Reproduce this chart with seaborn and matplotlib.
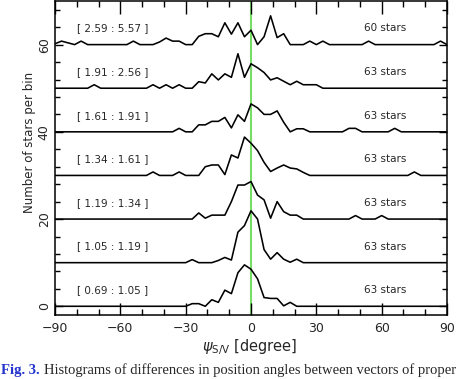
import numpy as np
import pandas as pd
import matplotlib
matplotlib.use("Agg")
import matplotlib.pyplot as plt
from matplotlib.ticker import MultipleLocator
import seaborn as sns

# bin centres (degrees)
angles = np.arange(-90, 91, 3)

# stars per bin, one list per S/V interval (bottom -> top)
c0 = [0, 0, 0, 0, 0, 0, 0, 0, 0, 0,
      0, 0, 0, 0, 0, 0, 0, 0, 0, 0,
      0, 0.6, 0.6, 0, 1.5, 0.9, 3.7, 2.9, 7.7, 9.5,
      8.5, 6.3, 2.0, 1.8, 1.8, 0.1, 0.9, 0, 0, 0,
      0, 0, 0, 0, 0, 0, 0, 0, 0, 0,
      0, 0, 0, 0, 0, 0, 0, 0, 0, 0,
      0]
c1 = [0, 0, 0, 0, 0, 0, 0, 0, 0, 0,
      0, 0, 0, 0, 0, 0, 0, 0, 0, 0,
      0, 0.7, 0, 0, 0, 0.5, 1.2, 0.6, 7.0, 8.5,
      11.9, 10.0, 3.0, 0.8, 2.3, 0.8, 0.1, 0.8, 0, 0,
      0, 0, 0, 0, 0, 0, 0, 0, 0, 0,
      0, 0, 0, 0, 0, 0, 0, 0, 0, 0,
      0]
c2 = [0, 0, 0, 0, 0, 0, 0, 0, 0, 0,
      0, 0, 0, 0, 0, 0, 0, 0, 0, 0,
      0, 0, 1.4, 0.2, 0.9, 0.9, 0.9, 4.0, 7.8, 7.8,
      8.6, 5.5, 4.4, 0.2, 4.0, 1.7, 0.9, 0.9, 0, 0,
      0, 0, 0, 0, 0, 0, 0.8, 0, 0, 0,
      0.8, 0, 0, 0, 0, 0, 0, 0, 0, 0,
      0]
c3 = [0, 0, 0, 0, 0, 0, 0, 0, 0, 0,
      0, 0, 0, 0, 0, 0.8, 0, 0, 0, 0.8,
      0, 0, 0, 2.0, 2.4, 2.4, 0.2, 4.7, 4.0, 8.8,
      7.4, 5.7, 3.0, 0.9, 1.7, 2.4, 1.7, 1.5, 0.7, 0,
      0, 0, 0, 0, 0, 0, 0, 0, 0, 0,
      0, 0, 0, 0, 0, 0.8, 0, 0, 0, 0,
      0]
c4 = [0, 0, 0, 0, 0, 0, 0, 0, 0, 0,
      0, 0, 0, 0, 0, 0, 0, 0, 0, 0.8,
      0, 0, 1.6, 1.6, 2.4, 2.4, 3.3, 0.9, 3.9, 2.4,
      6.4, 5.5, 4.0, 4.0, 4.8, 2.2, 0, 0.7, 0.7, 0,
      0, 0, 0, 0, 0, 0.8, 0.8, 0, 0, 0,
      0, 0, 0.8, 0, 0, 0, 0, 0, 0, 0,
      0]
c5 = [0, 0, 0, 0, 0, 0, 0.8, 0, 0, 0,
      0, 0, 0, 0, 0, 0.8, 0, 0.8, 0, 0.8,
      0, 0, 1.5, 1.2, 3.3, 1.9, 3.3, 2.5, 7.9, 2.5,
      5.6, 4.7, 3.6, 1.9, 2.4, 1.6, 0.8, 1.6, 0.8, 0.8,
      0.8, 0, 0, 0, 0, 0, 0, 0, 0, 0,
      0, 0, 0, 0, 0, 0, 0, 0, 0, 0,
      0]
c6 = [0.2, 0.8, 0.4, 0, 0.8, 0, 0, 0, 0, 0,
      0, 0, 0.8, 0, 0, 0, 0.6, 1.5, 0.8, 0.8,
      0, 0, 1.9, 2.5, 2.5, 1.8, 5.0, 2.4, 5.0, 1.8,
      3.3, 0, 1.8, 6.6, 1.6, 2.5, 0, 0, 0, 0.8,
      0, 0.8, 0, 0, 0, 0, 0, 0, 0.8, 0,
      0, 0, 0, 0, 0, 0, 0, 0, 0, 0.8,
      0]

curves = [c0, c1, c2, c3, c4, c5, c6]
ranges = ["[ 0.69 : 1.05 ]", "[ 1.05 : 1.19 ]", "[ 1.19 : 1.34 ]", "[ 1.34 : 1.61 ]",
          "[ 1.61 : 1.91 ]", "[ 1.91 : 2.56 ]", "[ 2.59 : 5.57 ]"]
nstars = [63, 63, 63, 63, 63, 63, 60]

rows = []
for k, c in enumerate(curves):
    for a, v in zip(angles, c):
        rows.append({"angle": a, "y": v + 10 * k, "group": k})
df = pd.DataFrame(rows)

sns.set_style("ticks")
plt.rcParams["font.family"] = ["DejaVu Sans"]

fig = plt.figure(figsize=(4.74, 3.79), dpi=100)
ax = fig.add_axes([55 / 474, 1 - 315 / 379, 392 / 474, 314 / 379])

ax.axvline(0, color="#77dd66", lw=1.5, zorder=0)
sns.lineplot(data=df, x="angle", y="y", units="group", estimator=None,
             color="black", lw=1.15, ax=ax, legend=False)

for k in range(7):
    base = 10 * k
    ax.text(-80, base + 3.7, ranges[k], fontsize=7.5, ha="left", va="center")
    ax.text(52, base + 3.7, f"{nstars[k]} stars", fontsize=7.5, ha="left", va="center")

ax.set_xlim(-90, 90)
ax.set_ylim(-2, 70)
ax.set_xticks([-90, -60, -30, 0, 30, 60, 90])
ax.xaxis.set_minor_locator(MultipleLocator(10))
ax.yaxis.set_major_locator(MultipleLocator(20))
ax.yaxis.set_minor_locator(MultipleLocator(4))
ax.tick_params(which="both", direction="in", top=True, right=True,
               width=1, color="black", labelsize=9)
ax.tick_params(axis="x", which="major", length=9)
ax.tick_params(axis="x", which="minor", length=4)
ax.tick_params(axis="y", which="major", length=6)
ax.tick_params(axis="y", which="minor", length=3.5)
ax.tick_params(axis="x", pad=5)
ax.tick_params(axis="y", pad=3)
for lab in ax.get_yticklabels():
    lab.set_rotation(90)
    lab.set_va("center")
for s in ax.spines.values():
    s.set_linewidth(1.1)
    s.set_color("black")

ax.set_xlabel(r"$\psi_{\rm S/V}$ [degree]", fontsize=10.5)
ax.set_ylabel("Number of stars per bin", fontsize=8.5)
ax.xaxis.set_label_coords(0.497, -0.102)
ax.yaxis.set_label_coords(-0.064, 0.548)
ax.xaxis.label.set_va("center")
ax.yaxis.label.set_va("center")

# caption line of the source figure along the bottom edge
fig.text(0.003, 0.013, "Fig. 3.", color="#2233cc", fontsize=10.5, fontweight="bold",
         family="Liberation Serif", ha="left", va="baseline")
fig.text(0.093, 0.013, "Histograms of differences in position angles between vectors of proper",
         fontsize=10.5, family="Liberation Serif", ha="left", va="baseline")

fig.savefig("out.png", dpi=100)
